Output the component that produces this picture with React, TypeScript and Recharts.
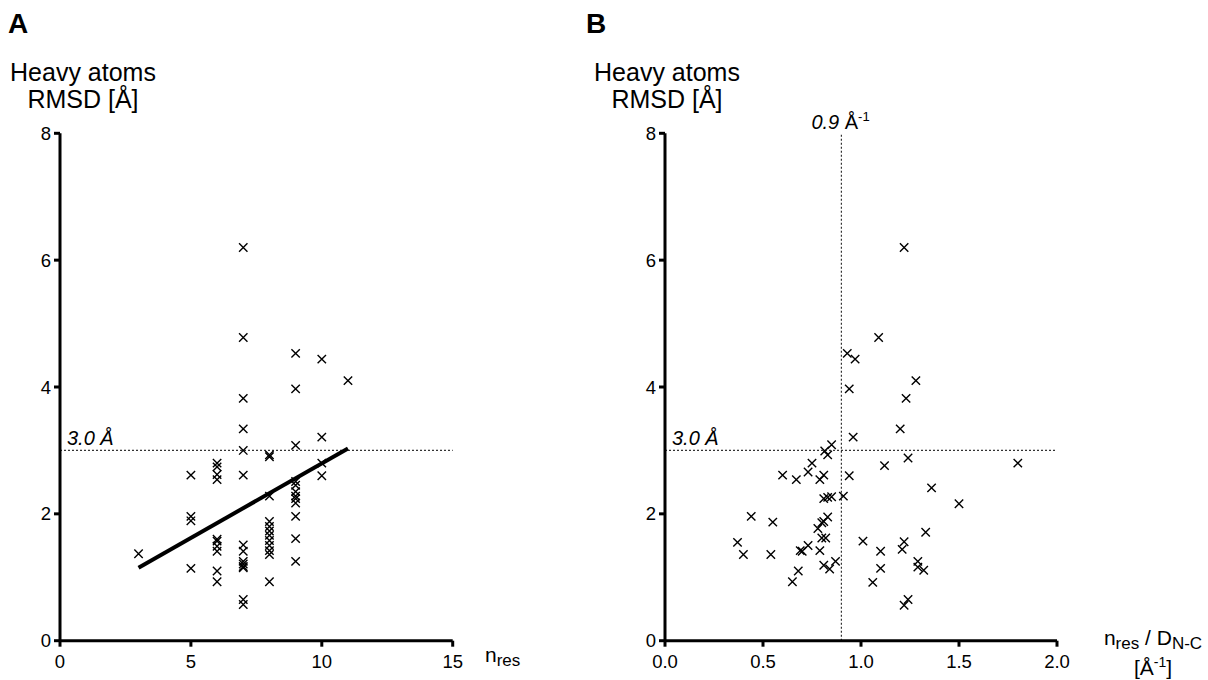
import React from 'react';
import { ScatterChart, Scatter, XAxis, YAxis, ReferenceLine } from 'recharts';

const FONT = '"Liberation Sans", Arial, Helvetica, sans-serif';

// Panel A: number of residues vs heavy-atom RMSD
const nResA = [
  3,
  5, 5, 5, 5,
  6, 6, 6, 6, 6, 6, 6, 6, 6, 6,
  7, 7, 7, 7, 7, 7, 7, 7, 7, 7, 7, 7, 7, 7,
  8, 8, 8, 8, 8, 8, 8, 8, 8, 8, 8, 8,
  9, 9, 9, 9, 9, 9, 9, 9, 9, 9, 9, 9,
  10, 10, 10, 10,
  11,
];
const rmsdA = [
  1.37,
  2.61, 1.96, 1.89, 1.14,
  2.80, 2.74, 2.62, 2.54, 1.60, 1.57, 1.49, 1.41, 1.10, 0.93,
  6.20, 4.78, 3.82, 3.34, 3.00, 2.61, 1.51, 1.41, 1.25, 1.21, 1.17, 1.15, 0.65, 0.57,
  2.93, 2.90, 2.28, 1.88, 1.80, 1.73, 1.66, 1.58, 1.50, 1.42, 1.36, 0.93,
  4.53, 3.97, 3.08, 2.51, 2.45, 2.35, 2.28, 2.24, 2.17, 1.96, 1.61, 1.25,
  4.44, 3.21, 2.80, 2.60,
  4.10,
];
const fitX = [3, 11];
const fitY = [1.15, 3.03];

// Panel B: residues per end-to-end distance vs heavy-atom RMSD
const ratioB = [
  0.37, 0.40, 0.44, 0.55, 0.54, 0.60, 0.67, 0.65, 0.68, 0.69,
  0.70, 0.73, 0.73, 0.75, 0.78, 0.79, 0.79, 0.81, 0.80, 0.81,
  0.83, 0.80, 0.82, 0.81, 0.83, 0.85, 0.91, 0.81, 0.84, 0.87,
  0.815, 0.83, 0.85, 0.94, 0.93, 0.97, 0.94, 0.96, 1.22, 1.09,
  1.28, 1.23, 1.20, 1.24, 1.12, 1.80, 1.36, 1.50, 1.33, 1.01,
  1.22, 1.21, 1.10, 1.29, 1.10, 1.29, 1.32, 1.06, 1.24, 1.22,
];
const rmsdB = [
  1.55, 1.36, 1.96, 1.87, 1.36, 2.61, 2.54, 0.93, 1.10, 1.42,
  1.41, 1.50, 2.66, 2.80, 1.77, 1.42, 2.54, 2.61, 1.86, 1.88,
  1.95, 1.62, 1.62, 2.24, 2.26, 2.27, 2.28, 1.19, 1.13, 1.25,
  2.99, 2.93, 3.09, 2.60, 4.53, 4.44, 3.97, 3.21, 6.20, 4.78,
  4.10, 3.82, 3.34, 2.88, 2.76, 2.80, 2.41, 2.16, 1.71, 1.57,
  1.56, 1.44, 1.41, 1.25, 1.14, 1.16, 1.11, 0.92, 0.65, 0.56,
];

const yTicks = [0, 2, 4, 6, 8];
const xTicksA = [0, 5, 10, 15];
const xTicksB = [0, 0.5, 1.0, 1.5, 2.0];
const rmsdCutoff = 3.0;
const ratioCutoff = 0.9;

const dataA = nResA.map((x, i) => ({ x, y: rmsdA[i] }));
const dataB = ratioB.map((x, i) => ({ x, y: rmsdB[i] }));

const Cross = (props: any) => {
  const { cx, cy } = props;
  if (cx == null || cy == null) return null;
  const s = 4.2;
  return (
    <path
      d={`M${cx - s},${cy - s}L${cx + s},${cy + s}M${cx - s},${cy + s}L${cx + s},${cy - s}`}
      stroke="#000"
      strokeWidth={1.4}
      fill="none"
    />
  );
};

const axisLine = { stroke: '#000', strokeWidth: 3 };
const tickLine = { stroke: '#000', strokeWidth: 3 };
const tickStyle = { fill: '#000', fontSize: 18.5, fontFamily: FONT };

const CutoffLabel = (props: any) => {
  const vb = props.viewBox || {};
  return (
    <text x={vb.x + 7} y={vb.y - 5} fontSize={20} fontStyle="italic" fontFamily={FONT} fill="#000">
      3.0 Å
    </text>
  );
};

const RatioLabel = (props: any) => {
  const vb = props.viewBox || {};
  return (
    <text x={vb.x - 30} y={vb.y - 4} fontSize={20} fontFamily={FONT} fill="#000">
      <tspan fontStyle="italic">0.9</tspan>
      <tspan> Å</tspan>
      <tspan fontSize={13} dy={-8}>-1</tspan>
    </text>
  );
};

const CHART_W = 604;
const CHART_H = 680;

const PanelA = () => (
  <ScatterChart
    width={CHART_W}
    height={CHART_H}
    margin={{ top: 133.3, right: 151.3, bottom: 9.3, left: 20 }}
  >
    <XAxis
      type="number"
      dataKey="x"
      domain={[0, 15]}
      ticks={xTicksA}
      interval={0}
      height={30}
      axisLine={axisLine}
      tickLine={tickLine}
      tickSize={6}
      tickMargin={8}
      tick={tickStyle}
    />
    <YAxis
      type="number"
      dataKey="y"
      domain={[0, 8]}
      ticks={yTicks}
      interval={0}
      width={40}
      axisLine={axisLine}
      tickLine={tickLine}
      tickSize={6}
      tickMargin={3}
      tick={tickStyle}
    />
    <ReferenceLine
      y={rmsdCutoff}
      stroke="#333"
      strokeWidth={1.2}
      strokeDasharray="2 2"
      label={CutoffLabel}
    />
    <ReferenceLine
      segment={[
        { x: fitX[0], y: fitY[0] },
        { x: fitX[1], y: fitY[1] },
      ]}
      stroke="#000"
      strokeWidth={4}
    />
    <Scatter data={dataA} shape={Cross} isAnimationActive={false} />
  </ScatterChart>
);

const PanelB = () => (
  <ScatterChart
    width={CHART_W}
    height={CHART_H}
    margin={{ top: 133.3, right: 151, bottom: 9.3, left: 21 }}
  >
    <XAxis
      type="number"
      dataKey="x"
      domain={[0, 2]}
      ticks={xTicksB}
      interval={0}
      height={30}
      axisLine={axisLine}
      tickLine={tickLine}
      tickSize={6}
      tickMargin={8}
      tick={tickStyle}
      tickFormatter={(v: number) => v.toFixed(1)}
    />
    <YAxis
      type="number"
      dataKey="y"
      domain={[0, 8]}
      ticks={yTicks}
      interval={0}
      width={40}
      axisLine={axisLine}
      tickLine={tickLine}
      tickSize={6}
      tickMargin={3}
      tick={tickStyle}
    />
    <ReferenceLine
      y={rmsdCutoff}
      stroke="#333"
      strokeWidth={1.2}
      strokeDasharray="2 2"
      label={CutoffLabel}
    />
    <ReferenceLine
      x={ratioCutoff}
      stroke="#333"
      strokeWidth={1.2}
      strokeDasharray="2 2"
      label={RatioLabel}
    />
    <Scatter data={dataB} shape={Cross} isAnimationActive={false} />
  </ScatterChart>
);

export default function App() {
  return (
    <div
      style={{
        position: 'absolute',
        left: 0,
        top: 0,
        width: 1208,
        height: 680,
        background: '#fff',
        fontFamily: FONT,
        overflow: 'hidden',
      }}
    >
      <div style={{ position: 'absolute', left: 0, top: 0 }}>
        <PanelA />
      </div>
      <div style={{ position: 'absolute', left: 604, top: 0 }}>
        <PanelB />
      </div>
      <svg
        width={1208}
        height={680}
        style={{ position: 'absolute', left: 0, top: 0, pointerEvents: 'none' }}
        fontFamily={FONT}
      >
        <text x={8} y={33} fontSize={28} fontWeight="bold" fill="#000">A</text>
        <text x={586} y={33} fontSize={28} fontWeight="bold" fill="#000">B</text>

        <text x={83} y={81} fontSize={25} textAnchor="middle" fill="#000">Heavy atoms</text>
        <text x={83} y={108} fontSize={25} textAnchor="middle" fill="#000">RMSD [Å]</text>
        <text x={667} y={81} fontSize={25} textAnchor="middle" fill="#000">Heavy atoms</text>
        <text x={667} y={108} fontSize={25} textAnchor="middle" fill="#000">RMSD [Å]</text>

        <text x={485} y={662} fontSize={21} fill="#000">
          <tspan>n</tspan>
          <tspan fontSize={17} dy={4}>res</tspan>
        </text>

        <text x={1153} y={645} fontSize={21} textAnchor="middle" fill="#000">
          <tspan>n</tspan>
          <tspan fontSize={17} dy={4}>res</tspan>
          <tspan dy={-4}> / D</tspan>
          <tspan fontSize={17} dy={4}>N-C</tspan>
        </text>
        <text x={1153} y={675} fontSize={21} textAnchor="middle" fill="#000">
          <tspan>[Å</tspan>
          <tspan fontSize={14} dy={-8}>-1</tspan>
          <tspan dy={8}>]</tspan>
        </text>
      </svg>
    </div>
  );
}
